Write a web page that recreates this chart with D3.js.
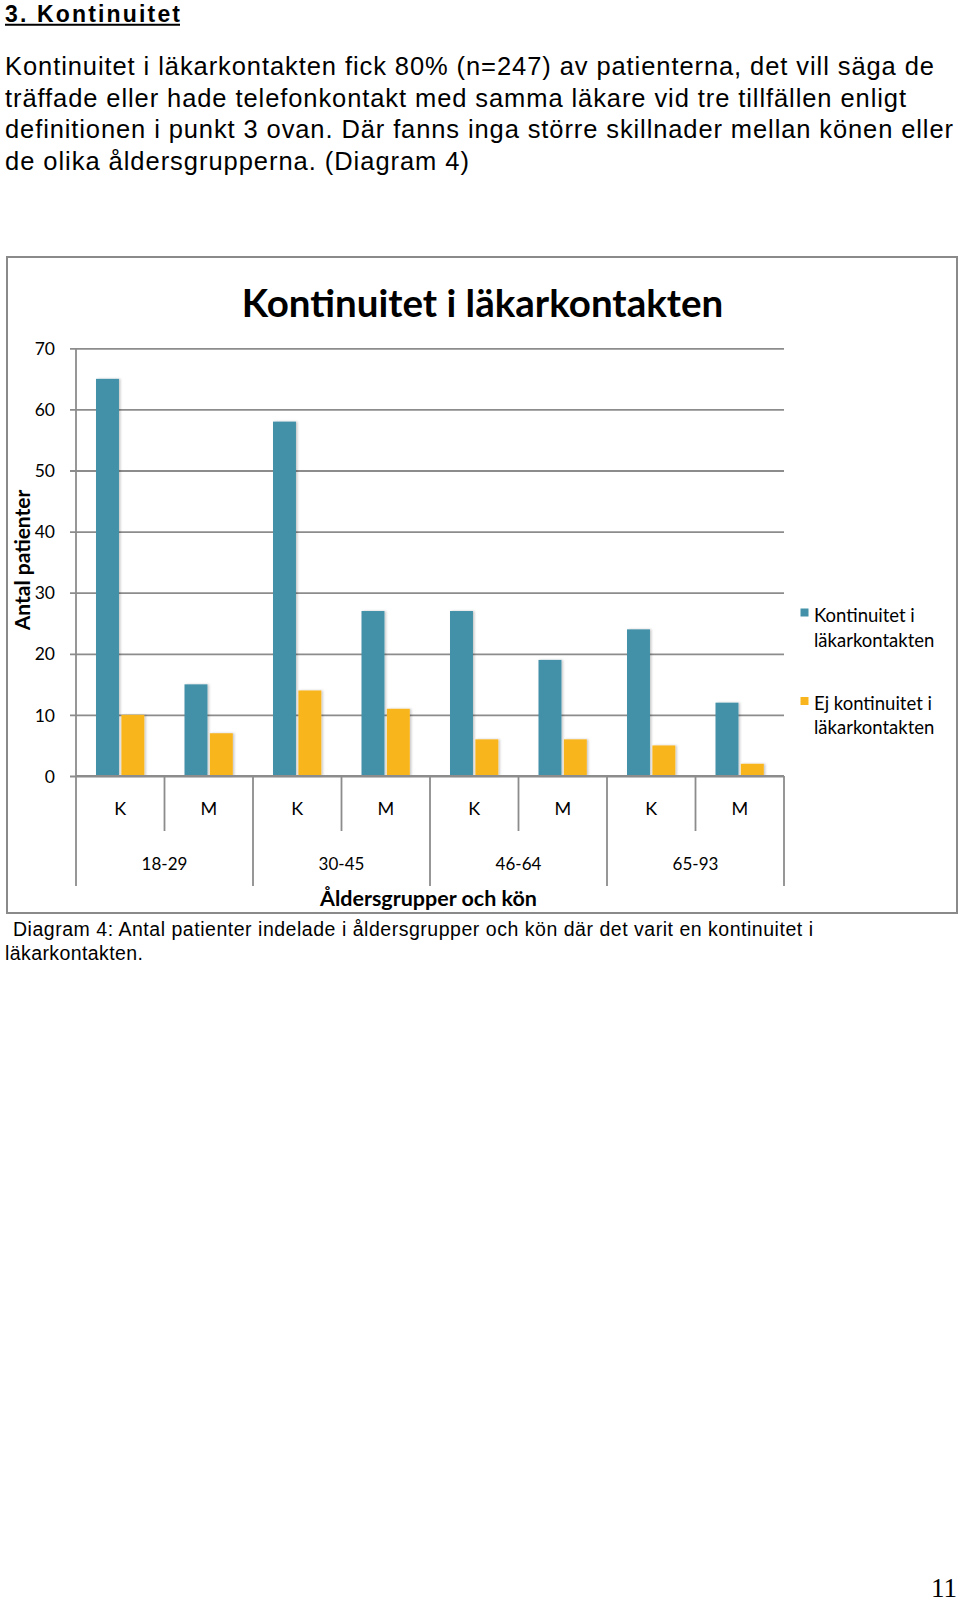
<!DOCTYPE html>
<html><head><meta charset="utf-8">
<script src="https://cdn.jsdelivr.net/npm/d3@7"></script>
<style>html,body{margin:0;padding:0;background:#fff;}svg{display:block;}</style>
</head><body>
<svg id="page" width="960" height="1606"></svg>
<script>
// ---- data ----
const ageGroups = ["18-29", "30-45", "46-64", "65-93"];
const sexes = ["K", "M"];
const seriesNames = ["Kontinuitet i läkarkontakten", "Ej kontinuitet i läkarkontakten"];
const kontinuitet = [65, 15, 58, 27, 27, 19, 24, 12];
const ejKontinuitet = [10, 7, 14, 11, 6, 6, 5, 2];
const yTicks = [0, 10, 20, 30, 40, 50, 60, 70];
const colors = ["#4291A8", "#F9B51E"];
const headerText = "3. Kontinuitet";
const paragraph = [
  "Kontinuitet i läkarkontakten fick 80% (n=247) av patienterna, det vill säga de",
  "träffade eller hade telefonkontakt med samma läkare vid tre tillfällen enligt",
  "definitionen i punkt 3 ovan. Där fanns inga större skillnader mellan könen eller",
  "de olika åldersgrupperna. (Diagram 4)"
];
const caption = [
  "Diagram 4: Antal patienter indelade i åldersgrupper och kön där det varit en kontinuitet i",
  "läkarkontakten."
];

(function () {
const cats = [];
ageGroups.forEach(g => sexes.forEach(s => cats.push(g + "|" + s)));
const rows = cats.map((c, i) => ({cat: c, sex: c.split("|")[1], vals: [kontinuitet[i], ejKontinuitet[i]]}));

const svg = d3.select("#page");
const bodyFont = "Liberation Sans, Arial, sans-serif";

// ---- page text ----
svg.append("text").attr("x", 5).attr("y", 21.5)
  .attr("font-family", bodyFont).attr("font-weight", "bold")
  .attr("font-size", 23).attr("fill", "#000")
  .attr("textLength", 175).attr("lengthAdjust", "spacing").text(headerText);
svg.append("line").attr("x1", 5).attr("x2", 180).attr("y1", 24.8).attr("y2", 24.8)
  .attr("stroke", "#000").attr("stroke-width", 2);

const paraLen = [929, 901, 948, 464];
const paraY = [75, 106.5, 138, 169.5];
svg.append("g").selectAll("text").data(paragraph).join("text")
  .attr("x", 5).attr("y", (d, i) => paraY[i])
  .attr("font-family", bodyFont).attr("font-size", 25.5)
  .attr("textLength", (d, i) => paraLen[i]).attr("lengthAdjust", "spacing")
  .attr("fill", "#000").text(d => d);

const capX = [13, 5], capY = [936, 960], capLen = [800, 138];
svg.append("g").selectAll("text").data(caption).join("text")
  .attr("x", (d, i) => capX[i]).attr("y", (d, i) => capY[i])
  .attr("font-family", bodyFont).attr("font-size", 19.5)
  .attr("textLength", (d, i) => capLen[i]).attr("lengthAdjust", "spacing")
  .attr("fill", "#000").text(d => d);

svg.append("text").attr("x", 957).attr("y", 1597).attr("text-anchor", "end")
  .attr("font-family", "Liberation Serif, serif").attr("font-size", 27).attr("fill", "#000").text("11");

// ---- chart frame ----
svg.append("rect").attr("x", 7).attr("y", 257).attr("width", 950).attr("height", 656)
  .attr("fill", "#fff").attr("stroke", "#8a8a8a").attr("stroke-width", 2);

const chartFont = "Lato, 'Open Sans', sans-serif";
svg.append("text").attr("x", 482.5).attr("y", 317).attr("text-anchor", "middle")
  .attr("font-family", chartFont).attr("font-weight", "bold").attr("font-size", 38.5)
  .attr("fill", "#000").text("Kontinuitet i läkarkontakten");

const pl = 76, pr = 784, pt = 348.3, pb = 776;
const y = d3.scaleLinear().domain([0, 70]).range([pb, pt]);
const x0 = d3.scaleBand().domain(cats).range([pl, pr]).padding(0);
const bw = x0.bandwidth();
const x1 = d3.scaleBand().domain([0, 1]).range([bw * 0.226, bw * 0.772]).paddingInner(0.095);

const defs = svg.append("defs");
const f = defs.append("filter").attr("id", "shadow").attr("x", "-30%").attr("y", "-10%").attr("width", "160%").attr("height", "120%");
f.append("feDropShadow").attr("dx", 1.5).attr("dy", 0).attr("stdDeviation", 1.3).attr("flood-color", "#000").attr("flood-opacity", 0.22);

const gridColor = "#8c8c8c";
// grid lines
const yAxis = d3.axisLeft(y).tickValues(yTicks).tickSize(0).tickPadding(0).tickFormat(d3.format("d"));
const gy = svg.append("g").attr("transform", `translate(${pl},0)`).call(yAxis);
gy.select(".domain").remove();
gy.selectAll(".tick line").attr("x1", -6).attr("x2", pr - pl)
  .attr("stroke", gridColor).attr("stroke-width", 1.8);
gy.selectAll(".tick text").attr("font-family", chartFont).attr("font-size", 17.5).attr("fill", "#000")
  .attr("x", -21).attr("dy", "0.35em");

// bars
const gBars = svg.append("g");
rows.forEach(r => {
  gBars.selectAll(null).data(r.vals).join("rect")
    .attr("x", (d, i) => x0(r.cat) + x1(i))
    .attr("width", x1.bandwidth())
    .attr("y", d => y(d))
    .attr("height", d => y(0) - y(d))
    .attr("fill", (d, i) => colors[i])
    .attr("filter", "url(#shadow)");
});

// left axis line and bottom axis
svg.append("line").attr("x1", pl).attr("x2", pl).attr("y1", pt).attr("y2", 886)
  .attr("stroke", gridColor).attr("stroke-width", 1.8);
svg.append("line").attr("x1", pl).attr("x2", pr).attr("y1", pb).attr("y2", pb)
  .attr("stroke", gridColor).attr("stroke-width", 1.8);

// category separators
const bounds = d3.range(cats.length + 1).map(i => pl + i * bw);
svg.append("g").selectAll("line").data(bounds.slice(1)).join("line")
  .attr("x1", d => d).attr("x2", d => d).attr("y1", pb)
  .attr("y2", (d, i) => ((i + 1) % 2 === 0) ? 886 : 831)
  .attr("stroke", gridColor).attr("stroke-width", 1.8);

// sex labels
svg.append("g").selectAll("text").data(rows).join("text")
  .attr("x", d => x0(d.cat) + bw / 2).attr("y", 815).attr("text-anchor", "middle")
  .attr("font-family", chartFont).attr("font-size", 18).attr("fill", "#000").text(d => d.sex);

// age labels
svg.append("g").selectAll("text").data(ageGroups).join("text")
  .attr("x", d => x0(d + "|K") + bw).attr("y", 870).attr("text-anchor", "middle")
  .attr("font-family", chartFont).attr("font-size", 17).attr("fill", "#000").text(d => d);

// axis titles
svg.append("text").attr("x", 428.5).attr("y", 906).attr("text-anchor", "middle")
  .attr("font-family", chartFont).attr("font-weight", "bold").attr("font-size", 21.5)
  .attr("fill", "#000").text("Åldersgrupper och kön");
svg.append("text").attr("transform", "translate(30,560) rotate(-90)").attr("text-anchor", "middle")
  .attr("font-family", chartFont).attr("font-weight", "bold").attr("font-size", 21)
  .attr("fill", "#000").text("Antal patienter");

// legend
const legendSq = [608.5, 697];
const legendBase = [[621.7, 646.7], [710, 733.5]];
const legendLines = [["Kontinuitet i", "läkarkontakten"], ["Ej kontinuitet i", "läkarkontakten"]];
const lg = svg.append("g");
seriesNames.forEach((s, i) => {
  lg.append("rect").attr("x", 800.5).attr("y", legendSq[i]).attr("width", 8).attr("height", 8).attr("fill", colors[i]);
  legendLines[i].forEach((t, j) => {
    lg.append("text").attr("x", 814).attr("y", legendBase[i][j])
      .attr("font-family", chartFont).attr("font-size", 18.5).attr("fill", "#000").text(t);
  });
});
})();
</script>
</body></html>
